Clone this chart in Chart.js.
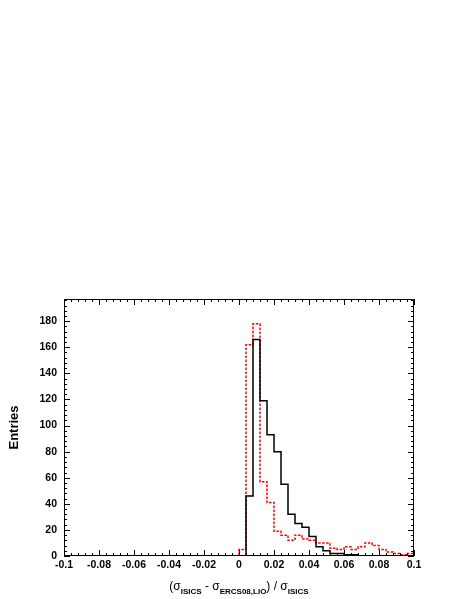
<!DOCTYPE html>
<html>
<head>
<meta charset="utf-8">
<script src="https://cdn.jsdelivr.net/npm/chart.js@4/dist/chart.umd.min.js"></script>
<style>
  html, body { margin: 0; padding: 0; background: #fff; }
  #wrap { width: 463px; height: 599px; }
</style>
</head>
<body>
<div id="wrap"><canvas id="hist"></canvas></div>
<script>
// left edges of the filled bins (bin width 0.004), last value is the closing edge
const binEdges = [0, 0.004, 0.008, 0.012, 0.016, 0.020, 0.024, 0.028, 0.032, 0.036,
  0.040, 0.044, 0.048, 0.052, 0.056, 0.060, 0.064, 0.068, 0.072, 0.076,
  0.080, 0.084, 0.088, 0.092, 0.096, 0.100];

// ISICS vs ERCS08 (black, solid)
const blackCounts = [0, 46, 166, 119, 93, 80, 55, 32, 25, 22,
  15, 7, 4, 2, 2, 1, 1, 0, 0, 0,
  0, 0, 0, 0, 0];

// second comparison (red, dotted)
const redCounts = [5, 162, 178, 57, 41, 19, 16, 12, 16, 13,
  12, 10, 10, 6, 5, 7, 5, 7, 10, 8,
  5, 3, 2, 1, 2];

const xRange = [-0.1, 0.1];
const yMax = 197;

const labelFont = { family: "'Liberation Sans', Arial, Helvetica, sans-serif", size: 10.5, weight: 'bold' };

// turn bin contents into step points: start at the axis minimum, close at the last edge
function toSteps(counts) {
  const pts = [{ x: xRange[0], y: 0 }];
  counts.forEach((c, i) => pts.push({ x: binEdges[i], y: c }));
  pts.push({ x: binEdges[binEdges.length - 1], y: 0 });
  return pts;
}

// ROOT-like frame with ticks pointing inwards on all four sides
const rootFrame = {
  id: 'rootFrame',
  afterDraw(chart) {
    const { ctx, chartArea: a, scales: { x, y } } = chart;
    ctx.save();
    ctx.strokeStyle = '#000';
    ctx.lineWidth = 1;
    ctx.beginPath();
    ctx.rect(a.left + 0.5, a.top + 0.5, a.right - a.left - 1, a.bottom - a.top - 1);

    for (let i = 0; ; i++) {
      const v = xRange[0] + i * 0.004;
      if (v > xRange[1] + 1e-9) break;
      const px = Math.round(x.getPixelForValue(v)) + 0.5;
      const len = i % 5 === 0 ? 6 : 3;
      ctx.moveTo(px, a.bottom); ctx.lineTo(px, a.bottom - len);
      ctx.moveTo(px, a.top); ctx.lineTo(px, a.top + len);
    }
    for (let i = 0; ; i++) {
      const v = i * 4;
      if (v > yMax) break;
      const py = Math.round(y.getPixelForValue(v)) + 0.5;
      const len = i % 5 === 0 ? 6 : 3;
      ctx.moveTo(a.left, py); ctx.lineTo(a.left + len, py);
      ctx.moveTo(a.right, py); ctx.lineTo(a.right - len, py);
    }
    ctx.stroke();

    // x axis title with subscripts
    const parts = [
      ['(\u03C3', false], ['ISICS', true], [' - \u03C3', false], ['ERCS08,LIO', true],
      [') / \u03C3', false], ['ISICS', true]
    ];
    const mainFont = "12px 'Liberation Sans', Arial, sans-serif";
    const subFont = "bold 8px 'Liberation Sans', Arial, sans-serif";
    let total = 0;
    parts.forEach(([t, sub]) => { ctx.font = sub ? subFont : mainFont; total += ctx.measureText(t).width; });
    let tx = (a.left + a.right) / 2 - total / 2;
    ctx.fillStyle = '#000';
    ctx.textBaseline = 'alphabetic';
    ctx.textAlign = 'left';
    parts.forEach(([t, sub]) => {
      ctx.font = sub ? subFont : mainFont;
      ctx.fillText(t, tx, sub ? 594 : 590);
      tx += ctx.measureText(t).width;
    });
    ctx.restore();
  }
};

new Chart(document.getElementById('hist'), {
  type: 'line',
  data: {
    datasets: [
      {
        label: 'black',
        data: toSteps(blackCounts),
        stepped: 'before',
        borderColor: '#000',
        borderWidth: 1.5,
        pointRadius: 0,
        fill: false
      },
      {
        label: 'red',
        data: toSteps(redCounts),
        stepped: 'before',
        borderColor: '#ff0000',
        borderWidth: 1.5,
        borderDash: [2.5, 1.5],
        pointRadius: 0,
        fill: false
      }
    ]
  },
  options: {
    responsive: true,
    maintainAspectRatio: false,
    animation: false,
    layout: { padding: { top: 299, right: 49, left: 0, bottom: 0 } },
    plugins: { legend: { display: false }, tooltip: { enabled: false } },
    scales: {
      x: {
        type: 'linear',
        min: xRange[0],
        max: xRange[1],
        grid: { display: true, drawOnChartArea: false, drawTicks: false },
        border: { display: false },
        ticks: {
          stepSize: 0.02,
          padding: 3,
          maxRotation: 0,
          color: '#000',
          font: labelFont,
          callback: (v) => String(+v.toFixed(2))
        },
        afterFit: (s) => { s.height = 43; }
      },
      y: {
        type: 'linear',
        min: 0,
        max: yMax,
        grid: { display: true, drawOnChartArea: false, drawTicks: false },
        border: { display: false },
        ticks: {
          stepSize: 20,
          includeBounds: false,
          padding: 7,
          color: '#000',
          font: labelFont
        },
        title: {
          display: true,
          text: 'Entries',
          color: '#000',
          padding: { top: 7, bottom: 0 },
          font: { family: "'Liberation Sans', Arial, sans-serif", size: 13, weight: 'bold' }
        },
        afterFit: (s) => { s.width = 64; }
      }
    }
  },
  plugins: [rootFrame]
});
</script>
</body>
</html>
